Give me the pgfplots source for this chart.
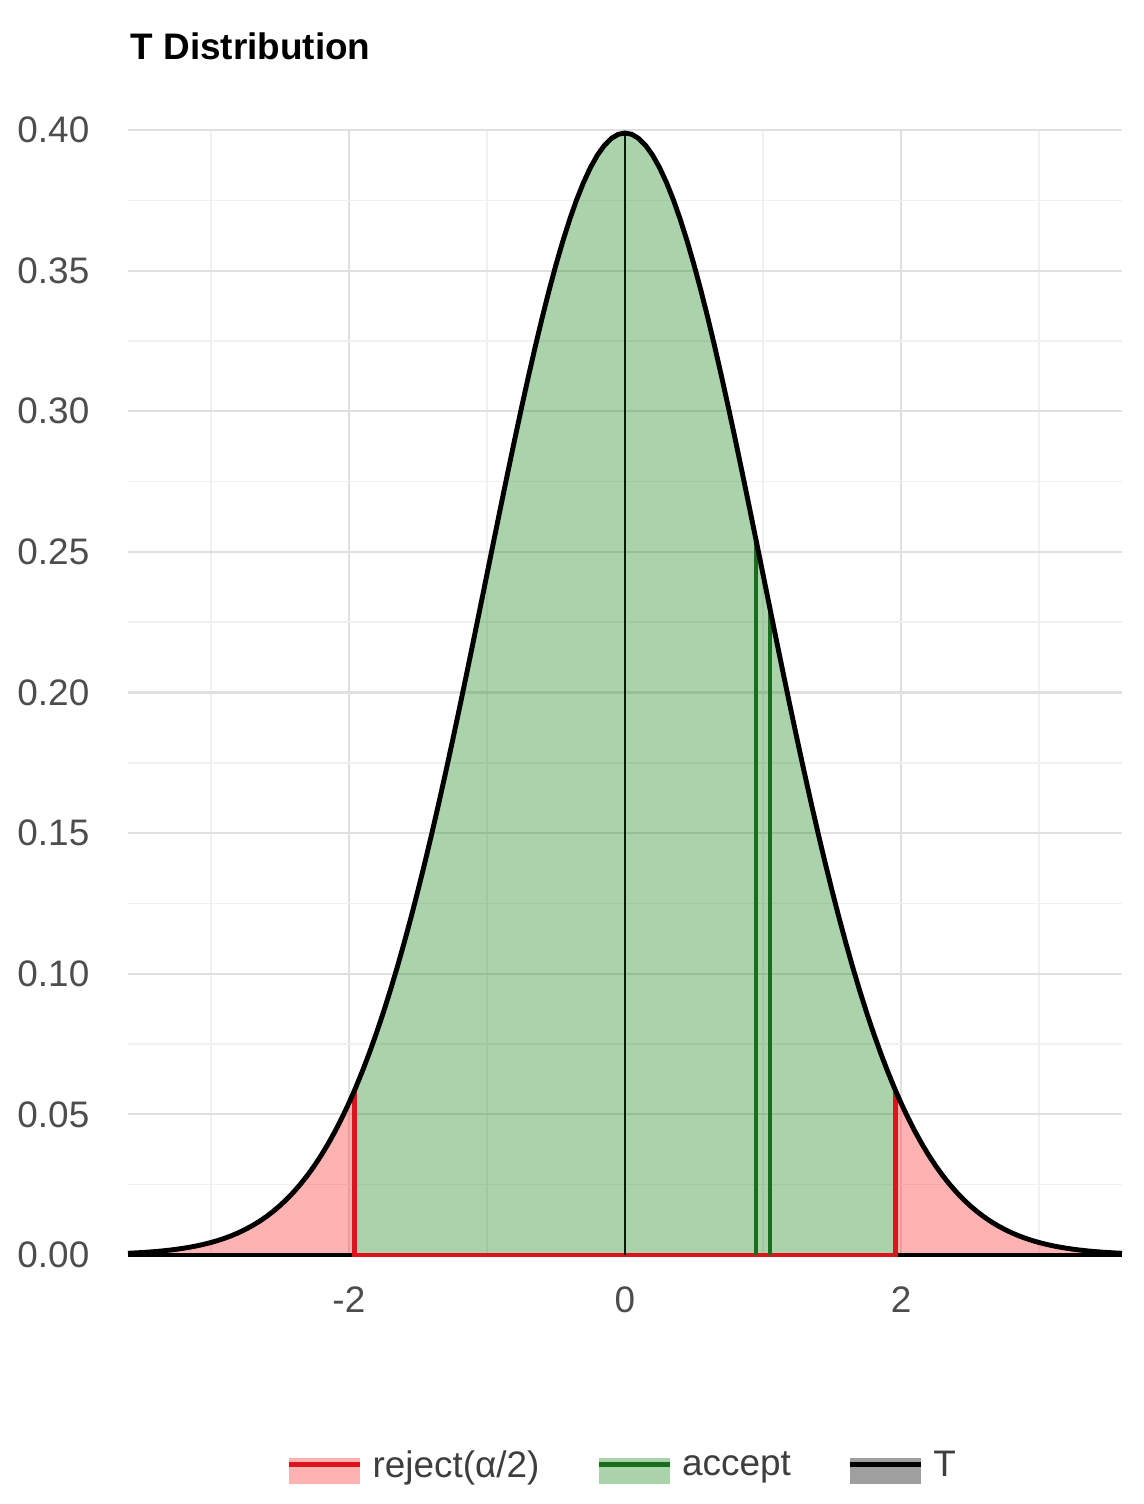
\documentclass[border=0pt]{standalone}
\usepackage{pgfplots}
\pgfplotsset{compat=1.18}
\usepackage{pgfplotstable}
\usepackage{fontspec}
\setmainfont{Liberation Sans}
\definecolor{fgreen}{RGB}{34,139,34}
\definecolor{dgreen}{RGB}{24,110,30}
\definecolor{rline}{RGB}{220,20,30}
\definecolor{tickgray}{RGB}{77,77,77}

\pgfplotstableread{
x y
-3.60 0.000612
-3.55 0.000732
-3.50 0.000873
-3.45 0.001038
-3.40 0.001232
-3.35 0.001459
-3.30 0.001723
-3.25 0.002029
-3.20 0.002384
-3.15 0.002794
-3.10 0.003267
-3.05 0.003810
-3.00 0.004432
-2.95 0.005143
-2.90 0.005953
-2.85 0.006873
-2.80 0.007915
-2.75 0.009094
-2.70 0.010421
-2.65 0.011913
-2.60 0.013583
-2.55 0.015449
-2.50 0.017528
-2.45 0.019838
-2.40 0.022395
-2.35 0.025222
-2.30 0.028327
-2.25 0.031740
-2.20 0.035475
-2.15 0.039557
-2.10 0.043984
-2.05 0.048792
-2.00 0.053991
-1.96 0.058441
-1.95 0.059595
-1.90 0.065616
-1.85 0.072074
-1.80 0.078950
-1.75 0.086277
-1.70 0.094049
-1.65 0.102259
-1.60 0.110921
-1.55 0.120014
-1.50 0.129518
-1.45 0.139428
-1.40 0.149727
-1.35 0.160383
-1.30 0.171369
-1.25 0.182649
-1.20 0.194186
-1.15 0.205937
-1.10 0.217852
-1.05 0.229887
-1.00 0.241971
-0.95 0.254059
-0.90 0.266085
-0.85 0.277999
-0.80 0.289692
-0.75 0.301137
-0.70 0.312254
-0.65 0.322972
-0.60 0.333225
-0.55 0.342944
-0.50 0.352065
-0.45 0.360527
-0.40 0.368270
-0.35 0.375240
-0.30 0.381388
-0.25 0.386668
-0.20 0.391043
-0.15 0.394479
-0.10 0.396953
-0.05 0.398444
0.00 0.398942
0.05 0.398444
0.10 0.396953
0.15 0.394479
0.20 0.391043
0.25 0.386668
0.30 0.381388
0.35 0.375240
0.40 0.368270
0.45 0.360527
0.50 0.352065
0.55 0.342944
0.60 0.333225
0.65 0.322972
0.70 0.312254
0.75 0.301137
0.80 0.289692
0.85 0.277999
0.90 0.266085
0.95 0.254059
1.00 0.241971
1.05 0.229887
1.10 0.217852
1.15 0.205937
1.20 0.194186
1.25 0.182649
1.30 0.171369
1.35 0.160383
1.40 0.149727
1.45 0.139428
1.50 0.129518
1.55 0.120014
1.60 0.110921
1.65 0.102259
1.70 0.094049
1.75 0.086277
1.80 0.078950
1.85 0.072074
1.90 0.065616
1.95 0.059595
1.96 0.058441
2.00 0.053991
2.05 0.048792
2.10 0.043984
2.15 0.039557
2.20 0.035475
2.25 0.031740
2.30 0.028327
2.35 0.025222
2.40 0.022395
2.45 0.019838
2.50 0.017528
2.55 0.015449
2.60 0.013583
2.65 0.011913
2.70 0.010421
2.75 0.009094
2.80 0.007915
2.85 0.006873
2.90 0.005953
2.95 0.005143
3.00 0.004432
3.05 0.003810
3.10 0.003267
3.15 0.002794
3.20 0.002384
3.25 0.002029
3.30 0.001723
3.35 0.001459
3.40 0.001232
3.45 0.001038
3.50 0.000873
3.55 0.000732
3.60 0.000612
}\tdata

\begin{document}
\begin{tikzpicture}
\useasboundingbox (-12.8mm,-24.9mm) rectangle (101.5mm,125.5mm);
\begin{axis}[
  at={(0,0)}, anchor=south west,
  width=99.4mm, height=112.5mm, scale only axis,
  xmin=-3.6, xmax=3.6, ymin=0, ymax=0.4,
  clip=false,
  axis line style={draw=none},
  tick style={draw=none},
  xtick={-2,0,2},
  minor xtick={-3,-1,1,3},
  ytick={0,0.05,0.1,0.15,0.2,0.25,0.3,0.35,0.4},
  minor ytick={0.025,0.075,0.125,0.175,0.225,0.275,0.325,0.375},
  grid=both,
  major grid style={color=gray!24, line width=0.6pt},
  minor grid style={color=gray!12, line width=0.4pt},
  scaled y ticks=false,
  /pgf/number format/assume math mode=true,
  tick label style={font=\fontsize{10.5}{12}\selectfont, text=tickgray},
  yticklabel style={/pgf/number format/.cd, fixed, fixed zerofill, precision=2, /tikz/.cd, anchor=east, inner sep=0pt, xshift=-3.8mm},
  xticklabel style={anchor=north, inner sep=0pt, yshift=-3.1mm},
  legend columns=3,
  legend style={draw=none, fill=none, at={(axis description cs:0.50,-0.188)}, anchor=center,
    font=\fontsize{10.5}{12}\selectfont, text=tickgray!80!black,
    /tikz/every odd column/.append style={column sep=0.3mm},
    /tikz/every even column/.append style={column sep=5.0mm}},
]
% areas
\addplot[forget plot, draw=none, fill=fgreen, fill opacity=0.38] table[restrict x to domain=-1.961:1.961] {\tdata} \closedcycle;
\addplot[forget plot, draw=none, fill=red, fill opacity=0.30] table[restrict x to domain=-3.7:-1.959] {\tdata} \closedcycle;
\addplot[forget plot, draw=none, fill=red, fill opacity=0.30] table[restrict x to domain=1.959:3.7] {\tdata} \closedcycle;
% baseline
\addplot[forget plot, black, line width=1.2pt] coordinates {(-3.6,0) (3.6,0)};
\addplot[forget plot, rline, line width=1.3pt] coordinates {(-1.96,0.058441) (-1.96,0) (1.96,0) (1.96,0.058441)};
% accept lines near 1
\addplot[forget plot, dgreen, line width=1.0pt] coordinates {(0.95,0) (0.95,0.254059)};
\addplot[forget plot, dgreen, line width=1.0pt] coordinates {(1.05,0) (1.05,0.229887)};
% center line
\addplot[forget plot, black!75!dgreen, line width=0.6pt] coordinates {(0,0) (0,0.398942)};
% density curve
\addplot[forget plot, black, line width=1.4pt] table {\tdata};
% legend
\addlegendimage{legend image code/.code={
  \path[draw=none, fill=red, fill opacity=0.30] (0mm,-1.7mm) rectangle (7.1mm,0.9mm);
  \path[draw=rline, line width=1.3pt] (0mm,0.2mm) -- (7.1mm,0.2mm);}}
\addlegendentry{reject(α/2)}
\addlegendimage{legend image code/.code={
  \path[draw=none, fill=fgreen, fill opacity=0.38] (0mm,-1.7mm) rectangle (7.1mm,0.9mm);
  \path[draw=dgreen, line width=1.3pt] (0mm,0.2mm) -- (7.1mm,0.2mm);}}
\addlegendentry{accept}
\addlegendimage{legend image code/.code={
  \path[draw=none, fill=gray!75] (0mm,-1.7mm) rectangle (7.1mm,0.9mm);
  \path[draw=black, line width=1.3pt] (0mm,0.2mm) -- (7.1mm,0.2mm);}}
\addlegendentry{T}
\end{axis}
\node[anchor=base west, inner sep=0pt, font=\fontsize{10.5}{12}\selectfont\bfseries] at (0.2mm,119.5mm) {T Distribution};
\end{tikzpicture}
\end{document}
